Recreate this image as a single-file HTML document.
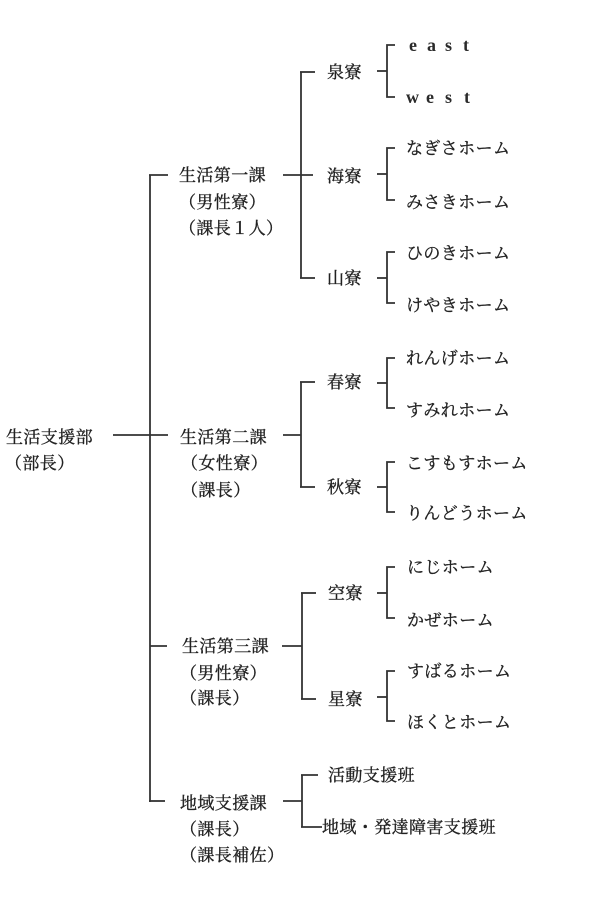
<!DOCTYPE html>
<html>
<head>
<meta charset="utf-8">
<style>
html,body{margin:0;padding:0;background:#fff;}
svg{display:block;}
.t{font-family:"Liberation Serif","Noto Serif CJK SC","Noto Serif CJK JP",serif;font-size:17px;fill:#222;stroke:#222;stroke-width:0.35px;letter-spacing:0.4px;}
.e{font-family:"Liberation Serif",serif;font-size:18px;font-weight:bold;fill:#2a2a2a;}
line,path{stroke:#333;stroke-width:1.8;fill:none;}
</style>
</head>
<body>
<svg width="602" height="902" viewBox="0 0 602 902" xmlns="http://www.w3.org/2000/svg">
<!-- main structure -->
<line x1="150" y1="175" x2="150" y2="802"/>
<line x1="149" y1="175" x2="168" y2="175"/>
<line x1="113" y1="435" x2="168" y2="435"/>
<line x1="150" y1="646" x2="167" y2="646"/>
<line x1="149" y1="801" x2="165" y2="801"/>

<!-- section 1 -->
<line x1="283" y1="175" x2="313" y2="175"/>
<line x1="301" y1="72" x2="301" y2="278"/>
<line x1="300" y1="72" x2="315" y2="72"/>
<line x1="300" y1="278" x2="315" y2="278"/>
<!-- section 2 -->
<line x1="283" y1="435" x2="301" y2="435"/>
<line x1="301" y1="382" x2="301" y2="487"/>
<line x1="300" y1="382" x2="315" y2="382"/>
<line x1="300" y1="487" x2="315" y2="487"/>
<!-- section 3 -->
<line x1="282" y1="646" x2="302" y2="646"/>
<line x1="302" y1="593" x2="302" y2="699"/>
<line x1="301" y1="593" x2="316" y2="593"/>
<line x1="301" y1="699" x2="316" y2="699"/>
<!-- section 4 -->
<line x1="283" y1="801" x2="302" y2="801"/>
<line x1="302" y1="775" x2="302" y2="827"/>
<line x1="301" y1="775" x2="318" y2="775"/>
<line x1="301" y1="827" x2="322" y2="827"/>

<!-- leaf brackets -->
<path d="M395 45 H387 V97 H395"/><line x1="377" y1="71" x2="387" y2="71"/>
<path d="M395 148 H387 V200 H395"/><line x1="377" y1="174" x2="387" y2="174"/>
<path d="M395 252 H387 V303 H395"/><line x1="377" y1="278" x2="387" y2="278"/>
<path d="M395 358 H387 V408 H395"/><line x1="377" y1="383" x2="387" y2="383"/>
<path d="M395 462 H387 V512 H395"/><line x1="377" y1="487" x2="387" y2="487"/>
<path d="M395 567 H387 V618 H395"/><line x1="377" y1="593" x2="387" y2="593"/>
<path d="M395 671 H387 V721 H395"/><line x1="377" y1="697" x2="387" y2="697"/>

<!-- left -->
<text class="t" x="6" y="443">生活支援部</text>
<text class="t" x="5" y="469">（部長）</text>

<!-- sections -->
<text class="t" x="179" y="181">生活第一課</text>
<text class="t" x="179" y="208">（男性寮）</text>
<text class="t" x="179" y="234">（課長１人）</text>

<text class="t" x="180" y="443">生活第二課</text>
<text class="t" x="181" y="469">（女性寮）</text>
<text class="t" x="181" y="496">（課長）</text>

<text class="t" x="182" y="652">生活第三課</text>
<text class="t" x="180" y="679">（男性寮）</text>
<text class="t" x="180" y="704">（課長）</text>

<text class="t" x="180" y="809">地域支援課</text>
<text class="t" x="180" y="835">（課長）</text>
<text class="t" x="180" y="861">（課長補佐）</text>

<!-- dorms -->
<text class="t" x="327" y="78">泉寮</text>
<text class="t" x="327" y="182">海寮</text>
<text class="t" x="327" y="284">山寮</text>
<text class="t" x="327" y="388">春寮</text>
<text class="t" x="327" y="493">秋寮</text>
<text class="t" x="328" y="599">空寮</text>
<text class="t" x="328" y="705">星寮</text>
<text class="t" x="328" y="781">活動支援班</text>
<text class="t" x="322" y="833">地域・発達障害支援班</text>

<!-- leaves -->
<text class="e" x="409 427 445 463" y="51">east</text>
<text class="e" x="406 426 445 464" y="103">west</text>
<text class="t" x="406" y="154">なぎさホーム</text>
<text class="t" x="406" y="208">みさきホーム</text>
<text class="t" x="406" y="259">ひのきホーム</text>
<text class="t" x="406" y="311">けやきホーム</text>
<text class="t" x="406" y="364">れんげホーム</text>
<text class="t" x="406" y="416">すみれホーム</text>
<text class="t" x="406" y="469">こすもすホーム</text>
<text class="t" x="406" y="519">りんどうホーム</text>
<text class="t" x="407" y="573">にじホーム</text>
<text class="t" x="407" y="626">かぜホーム</text>
<text class="t" x="407" y="677">すばるホーム</text>
<text class="t" x="407" y="728">ほくとホーム</text>
</svg>
</body>
</html>
